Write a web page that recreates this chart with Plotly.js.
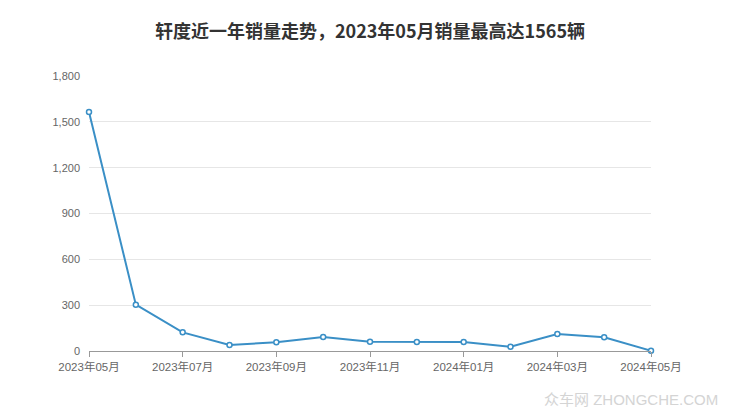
<!DOCTYPE html>
<html>
<head>
<meta charset="utf-8">
<script src="https://cdn.plot.ly/plotly-3.0.1.min.js"></script>
<style>
  html, body { margin:0; padding:0; background:#fff; }
  #chart { width:740px; height:417px; }
</style>
</head>
<body>
<div id="chart"></div>
<script>
// ── Data ─────────────────────────────────────────────────────────────────────
const months = ['2023年05月','2023年06月','2023年07月','2023年08月','2023年09月','2023年10月',
                '2023年11月','2023年12月','2024年01月','2024年02月','2024年03月','2024年04月','2024年05月'];
const sales  = [1565, 303, 122, 39, 57, 91, 60, 59, 59, 28, 111, 90, 2];
const xTicks = ['2023年05月','2023年07月','2023年09月','2023年11月','2024年01月','2024年03月','2024年05月'];
const yTicks = [0, 300, 600, 900, 1200, 1500, 1800];

const FONT = '"Liberation Sans", Arial, "Noto Sans CJK SC", sans-serif';
const BLUE = '#3a8fc6';

const trace = {
  x: months, y: sales, type:'scatter', mode:'lines+markers',
  line:{ color:BLUE, width:2 },
  marker:{ size:5, color:'#fff', line:{ color:BLUE, width:1.5 } },
  cliponaxis:false, hoverinfo:'skip',
};

const layout = {
  width:740, height:417,
  paper_bgcolor:'#fff', plot_bgcolor:'#fff',
  margin:{ t:76, r:89, b:66, l:89 },
  font:{ family:FONT, color:'#666', size:11 },
  showlegend:false,
  title:{
    text:'<b>轩度近一年销量走势，2023年05月销量最高达1565辆</b>',
    x:0.5, xanchor:'center', y:0.925, yanchor:'middle',
    font:{ family:'"Noto Sans CJK SC", sans-serif', size:18, color:'#333' },
  },
  xaxis:{
    type:'category', range:[0, months.length-1],
    tickvals:xTicks, ticktext:xTicks,
    showgrid:false, zeroline:false,
    showline:true, linecolor:'#999', linewidth:1,
    ticks:'outside', ticklen:5, tickcolor:'#999',
    tickfont:{ size:11.5, color:'#666' },
  },
  yaxis:{
    range:[0, 1800], tickvals:yTicks, tickformat:',d',
    showgrid:true, gridcolor:'#e6e6e6', gridwidth:1,
    zeroline:false, showline:false, ticks:'', ticklabelstandoff:8,
    tickfont:{ size:11, color:'#666' },
  },
  annotations:[{
    text:'众车网 ZHONGCHE.COM', xref:'paper', yref:'paper',
    x:1, y:0, xshift:89-20, yshift:-48, xanchor:'right', yanchor:'middle',
    showarrow:false, font:{ family:FONT, size:15, color:'#d4d4d4' },
  }],
};

Plotly.newPlot('chart', [trace], layout, { displayModeBar:false, staticPlot:true });
</script>
</body>
</html>
